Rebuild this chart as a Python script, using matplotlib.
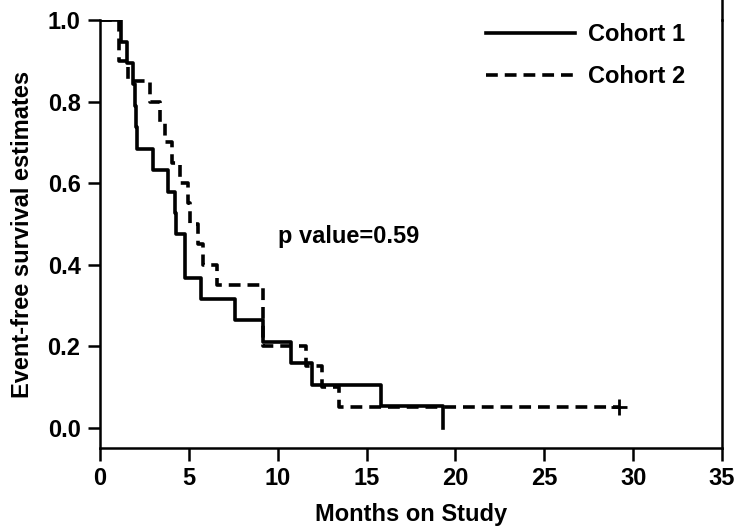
import matplotlib
matplotlib.use("Agg")
import matplotlib.pyplot as plt
from matplotlib.lines import Line2D

plt.rcParams['font.family'] = ['Liberation Sans', 'DejaVu Sans']
plt.rcParams['font.weight'] = 'bold'
plt.rcParams['lines.scale_dashes'] = False

# Data
cohort1_times = [0, 1.2, 1.5, 1.85, 1.95, 2.05, 2.1, 3.0, 3.8, 4.2, 4.3, 4.77, 5.7, 7.57, 9.2, 10.75, 11.95, 15.8, 19.3]
cohort1_surv = [1.0, 0.947, 0.895, 0.842, 0.789, 0.737, 0.684, 0.632, 0.579, 0.526, 0.474, 0.368, 0.316, 0.263, 0.211, 0.158, 0.105, 0.053, 0.0]
cohort2_times = [0, 1.05, 1.6, 2.8, 3.37, 3.65, 4.04, 4.5, 4.95, 5.05, 5.5, 5.8, 6.6, 9.2, 11.6, 12.5, 13.45, 29.2]
cohort2_surv = [1.0, 0.9, 0.85, 0.8, 0.75, 0.7, 0.65, 0.6, 0.55, 0.5, 0.45, 0.4, 0.35, 0.2, 0.15, 0.1, 0.05, 0.05]
cohort2_censor_t = [29.2]
cohort2_censor_s = [0.05]
labels = ["Cohort 1", "Cohort 2"]
x_ticks = [0, 5, 10, 15, 20, 25, 30, 35]
y_ticks = [0.0, 0.2, 0.4, 0.6, 0.8, 1.0]
p_text = "p value=0.59"

FS = 17

fig = plt.figure(figsize=(7.35, 5.3), dpi=100)
ax = fig.add_axes([100/735, 1-448/530, 622/735, (448-20)/530])

lw = 2.6
ax.step(cohort1_times, cohort1_surv, where='post', color='black', lw=lw, label=labels[0])
ax.step(cohort2_times, cohort2_surv, where='post', color='black', lw=lw, dashes=(8.5, 5), label=labels[1])
ax.plot(cohort2_censor_t, cohort2_censor_s, marker='+', ms=11, mew=2, color='black', ls='none')

ax.set_xlim(0, 35)
ax.set_ylim(-0.05, 1.0)
ax.set_xticks(x_ticks)
ax.set_xticklabels([str(t) for t in x_ticks])
ax.set_yticks(y_ticks)
ax.set_yticklabels([f"{t:.1f}" for t in y_ticks])
ax.tick_params(direction='out', length=9, width=1.8, labelsize=FS, pad=5)

for s in ['left', 'bottom', 'right']:
    ax.spines[s].set_linewidth(1.8)
ax.spines['top'].set_visible(False)

# right frame line continues to the top of the figure
x_r = ax.get_position().x1
fig.add_artist(Line2D([x_r, x_r], [ax.get_position().y1, 1.0], transform=fig.transFigure,
                      color='black', lw=1.8))

ax.set_xlabel("Months on Study", fontsize=FS, fontweight='bold', labelpad=9)
ax.set_ylabel("Event-free survival estimates", fontsize=FS, fontweight='bold', labelpad=10)

ax.text(10.0, 0.453, p_text, fontsize=FS, fontweight='bold', va='baseline', ha='left')

leg = ax.legend(loc='upper left', bbox_to_anchor=(0.605, 1.014), frameon=False,
                fontsize=FS, handlelength=3.8, handletextpad=0.55, labelspacing=0.8,
                borderaxespad=0)

fig.savefig("out.png", dpi=100)
